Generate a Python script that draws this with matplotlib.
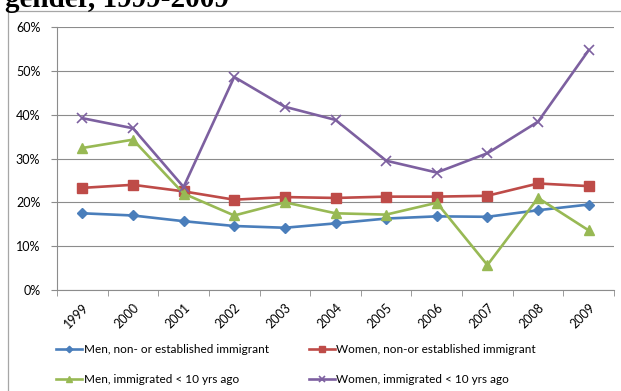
"""Share of students by immigrant background and gender, 1999-2009."""

import matplotlib
matplotlib.use("Agg")
import matplotlib.pyplot as plt
from matplotlib.patches import Rectangle
from matplotlib.ticker import PercentFormatter

years = ["1999", "2000", "2001", "2002", "2003", "2004",
         "2005", "2006", "2007", "2008", "2009"]

men_non = [17.5, 17.0, 15.7, 14.6, 14.2, 15.2, 16.3, 16.8, 16.7, 18.2, 19.5]
women_non = [23.3, 24.0, 22.5, 20.6, 21.2, 21.0, 21.3, 21.3, 21.5, 24.3, 23.7]
men_imm = [32.4, 34.3, 22.0, 17.0, 20.0, 17.5, 17.2, 19.9, 5.7, 21.0, 13.6]
women_imm = [39.2, 36.9, 23.5, 48.6, 41.8, 38.8, 29.5, 26.8, 31.2, 38.4, 54.7]

labels = [
    "Men, non- or established immigrant",
    "Women, non-or established immigrant",
    "Men, immigrated < 10 yrs ago",
    "Women, immigrated < 10 yrs ago",
]

plt.rcParams["font.family"] = ["Lato", "DejaVu Sans"]

fig = plt.figure(figsize=(6.21, 3.91), dpi=100)

# chart frame, partly cut off on the right and bottom
fig.patches.append(Rectangle((8 / 621, -0.05), 1.0, 1 - 11 / 391 + 0.05,
                             transform=fig.transFigure, fill=False,
                             edgecolor="#a6a6a6", linewidth=0.9))

# clipped title from the page above
fig.text(5 / 621, 1 - 7 / 391, "gender, 1999-2009", family="Liberation Serif",
         fontsize=21, fontweight="bold", va="baseline", ha="left")

ax = fig.add_axes([57 / 621, 1 - 290 / 391, 557 / 621, 263 / 391])

x = range(len(years))
l1, = ax.plot(x, men_non, color="#4a7ebb", lw=1.9, marker="D", ms=5.5)
l2, = ax.plot(x, women_non, color="#be4b48", lw=1.9, marker="s", ms=7)
l3, = ax.plot(x, men_imm, color="#98b954", lw=1.9, marker="^", ms=7)
l4, = ax.plot(x, women_imm, color="#7d60a0", lw=1.9, marker="x", ms=7, mew=1.2)

ax.set_ylim(0, 60)
ax.set_yticks(range(0, 61, 10))
ax.yaxis.set_major_formatter(PercentFormatter(decimals=0))
ax.set_xlim(-0.5, len(years) - 0.5)
ax.set_xticks(list(x))
ax.set_xticklabels(years, rotation=45, ha="right", rotation_mode="anchor")
ax.set_xticks([i + 0.5 for i in range(-1, len(years))], minor=True)

ax.grid(axis="y", color="#8c8c8c", lw=0.8)
ax.set_axisbelow(True)
for side in ["top", "right"]:
    ax.spines[side].set_visible(False)
for side in ["left", "bottom"]:
    ax.spines[side].set_color("#8c8c8c")
    ax.spines[side].set_linewidth(0.8)

ax.tick_params(axis="y", length=4, color="#8c8c8c", labelsize=9, pad=8)
ax.tick_params(axis="x", which="major", length=0, labelsize=9, pad=8)
ax.tick_params(axis="x", which="minor", length=4, color="#8c8c8c")

# legend filled row by row, like the original
ax.legend([l1, l3, l2, l4], [labels[0], labels[2], labels[1], labels[3]],
          loc="upper left", bbox_to_anchor=(-0.02, -0.165), ncol=2, frameon=False,
          fontsize=8.5, handlelength=2.2, handletextpad=0.1, columnspacing=3.4,
          labelspacing=1.6, markerscale=0.6)

fig.savefig("out.png", dpi=100)
